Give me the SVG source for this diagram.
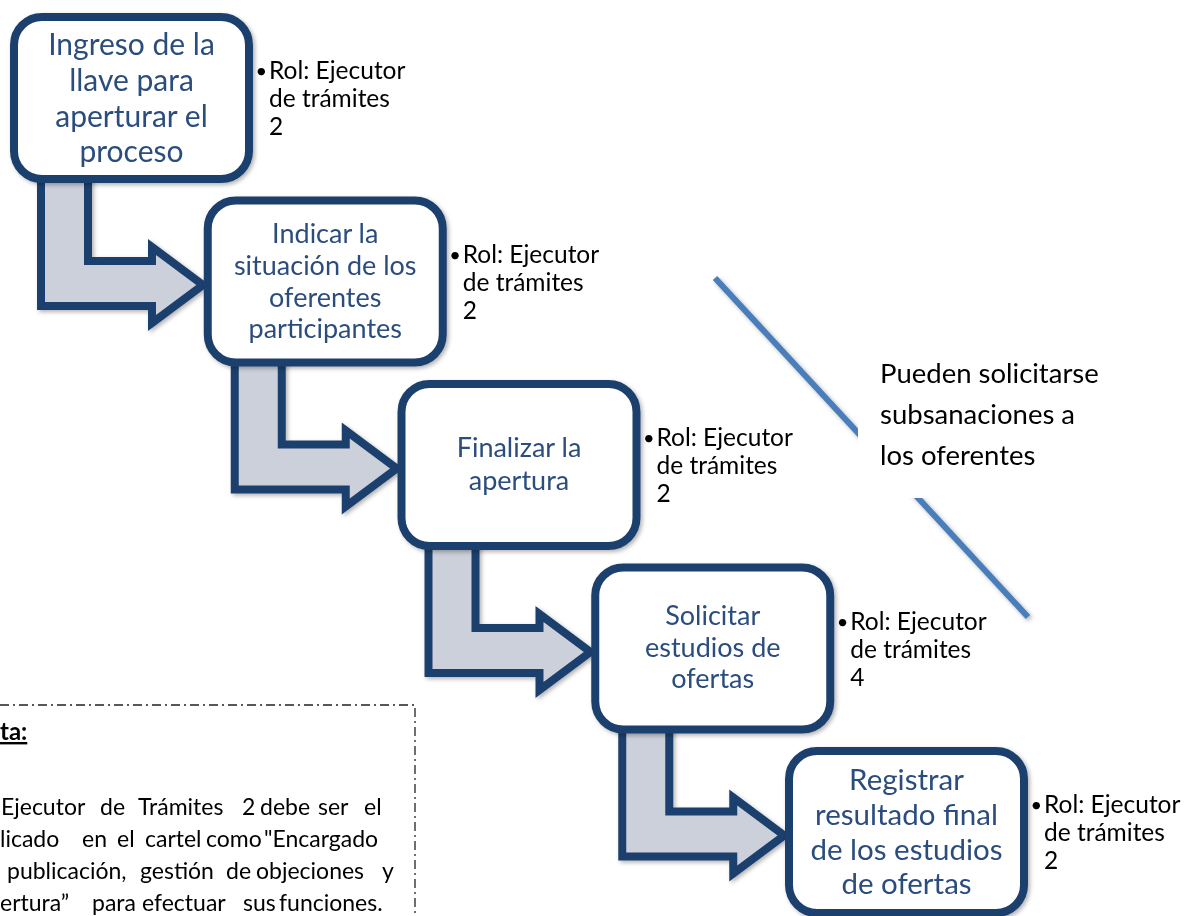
<svg xmlns="http://www.w3.org/2000/svg" xmlns:xlink="http://www.w3.org/1999/xlink" width="1186" height="916" viewBox="0 0 1186 916">
<style>
.box{fill:#fff;stroke:#1F3F6D;stroke-width:8}
.arr{fill:#CCD0DB;stroke:#1F3F6D;stroke-width:8;stroke-linejoin:miter}
.bt{font-family:Lato,"Liberation Sans",sans-serif;fill:#2B4D7E;text-anchor:middle}
.b1{font-size:30px}
.b2{font-size:27px}
.b5{font-size:29.5px}
.st{font-family:Lato,"Liberation Sans",sans-serif;font-size:24.5px;fill:#000}
.bu{font-family:Lato,"Liberation Sans",sans-serif;font-size:20px;fill:#000}
.ct{font-family:Lato,"Liberation Sans",sans-serif;font-size:27.5px;fill:#000}
.nt{font-family:Lato,"Liberation Sans",sans-serif;font-size:23px;fill:#000}
.ntb{font-family:Lato,"Liberation Sans",sans-serif;font-size:24px;font-weight:bold;fill:#000;text-decoration:underline}
.dash{fill:none;stroke:#222;stroke-width:1.3;stroke-dasharray:9 4 2 4}
</style>
<defs>
<filter id="sh" x="-10%" y="-10%" width="130%" height="130%">
<feDropShadow dx="2" dy="2" stdDeviation="2" flood-color="#000" flood-opacity="0.3"/>
</filter>
<path id="bend" class="arr" d="M27,150 V289 H138 V306 L189,268 L138,230 V244 H74 V150 Z"/>
</defs>
<rect width="1186" height="916" fill="#fff"/>

<g id="connectors" filter="url(#sh)">
<use xlink:href="#bend" href="#bend" transform="translate(14,17)"/>
<use xlink:href="#bend" href="#bend" transform="translate(207.75,200.5)"/>
<use xlink:href="#bend" href="#bend" transform="translate(401.5,384)"/>
<use xlink:href="#bend" href="#bend" transform="translate(595.25,567.5)"/>
</g>

<g id="node1">
<rect class="box" x="14" y="17" width="235" height="162" rx="28" filter="url(#sh)"/>
<text class="bt b1"><tspan x="131.5" y="55">Ingreso de la</tspan><tspan x="131.5" y="90.8">llave para</tspan><tspan x="131.5" y="126.6">aperturar el</tspan><tspan x="131.5" y="162.4">proceso</tspan></text>
<text class="bu" x="255.5" y="78">•</text>
<text class="st"><tspan x="269" y="79">Rol: Ejecutor</tspan><tspan x="269" y="107">de trámites</tspan><tspan x="269" y="135">2</tspan></text>
</g>

<g id="node2">
<rect class="box" x="207.75" y="200.5" width="235" height="162" rx="28" filter="url(#sh)"/>
<text class="bt b2"><tspan x="325.25" y="243">Indicar la</tspan><tspan x="325.25" y="275">situación de los</tspan><tspan x="325.25" y="307">oferentes</tspan><tspan x="325.25" y="338">participantes</tspan></text>
<text class="bu" x="449.25" y="261.5">•</text>
<text class="st"><tspan x="462.75" y="262.5">Rol: Ejecutor</tspan><tspan x="462.75" y="290.5">de trámites</tspan><tspan x="462.75" y="318.5">2</tspan></text>
</g>

<g id="node3">
<rect class="box" x="401.5" y="384" width="235" height="162" rx="28" filter="url(#sh)"/>
<text class="bt b2"><tspan x="519" y="457">Finalizar la</tspan><tspan x="519" y="490">apertura</tspan></text>
<text class="bu" x="643" y="445">•</text>
<text class="st"><tspan x="656.5" y="446">Rol: Ejecutor</tspan><tspan x="656.5" y="474">de trámites</tspan><tspan x="656.5" y="502">2</tspan></text>
</g>

<g id="node4">
<rect class="box" x="595.25" y="567.5" width="235" height="162" rx="28" filter="url(#sh)"/>
<text class="bt b2"><tspan x="712.75" y="625">Solicitar</tspan><tspan x="712.75" y="657">estudios de</tspan><tspan x="712.75" y="688">ofertas</tspan></text>
<text class="bu" x="836.75" y="628.5">•</text>
<text class="st"><tspan x="850.25" y="629.5">Rol: Ejecutor</tspan><tspan x="850.25" y="657.5">de trámites</tspan><tspan x="850.25" y="685.5">4</tspan></text>
</g>

<g id="node5">
<rect class="box" x="789" y="751" width="235" height="162" rx="28" filter="url(#sh)"/>
<text class="bt b5"><tspan x="906.5" y="790">Registrar</tspan><tspan x="906.5" y="825">resultado final</tspan><tspan x="906.5" y="859.5">de los estudios</tspan><tspan x="906.5" y="894">de ofertas</tspan></text>
<text class="bu" x="1030.5" y="812">•</text>
<text class="st"><tspan x="1044" y="813">Rol: Ejecutor</tspan><tspan x="1044" y="841">de trámites</tspan><tspan x="1044" y="869">2</tspan></text>
</g>

<g id="callout">
<line x1="715" y1="278" x2="1028" y2="617" stroke="#4A7EBB" stroke-width="6" filter="url(#sh)"/>
<rect x="858" y="350" width="250" height="148" fill="#fff"/>
<text class="ct"><tspan x="880" y="383">Pueden solicitarse</tspan><tspan x="880" y="424">subsanaciones a</tspan><tspan x="880" y="465">los oferentes</tspan></text>
</g>

<g id="note">
<path class="dash" d="M0,705 H415 V916"/>
<text class="ntb" x="0" y="740">ta:</text>
<text class="nt"><tspan x="1" y="815">Ejecutor</tspan><tspan x="100" y="815">de</tspan><tspan x="138" y="815">Trámites</tspan><tspan x="242" y="815">2</tspan><tspan x="260" y="815">debe</tspan><tspan x="318" y="815">ser</tspan><tspan x="364" y="815">el</tspan></text>
<text class="nt"><tspan x="0" y="847">licado</tspan><tspan x="82" y="847">en</tspan><tspan x="117" y="847">el</tspan><tspan x="145" y="847">cartel</tspan><tspan x="206" y="847">como</tspan><tspan x="264" y="847">"Encargado</tspan></text>
<text class="nt"><tspan x="7" y="879">publicación,</tspan><tspan x="140" y="879">gestión</tspan><tspan x="226" y="879">de</tspan><tspan x="256" y="879">objeciones</tspan><tspan x="382" y="879">y</tspan></text>
<text class="nt"><tspan x="0" y="911">ertura”</tspan><tspan x="92" y="911">para</tspan><tspan x="142" y="911">efectuar</tspan><tspan x="243" y="911">sus</tspan><tspan x="279" y="911">funciones.</tspan></text>
</g>
</svg>
